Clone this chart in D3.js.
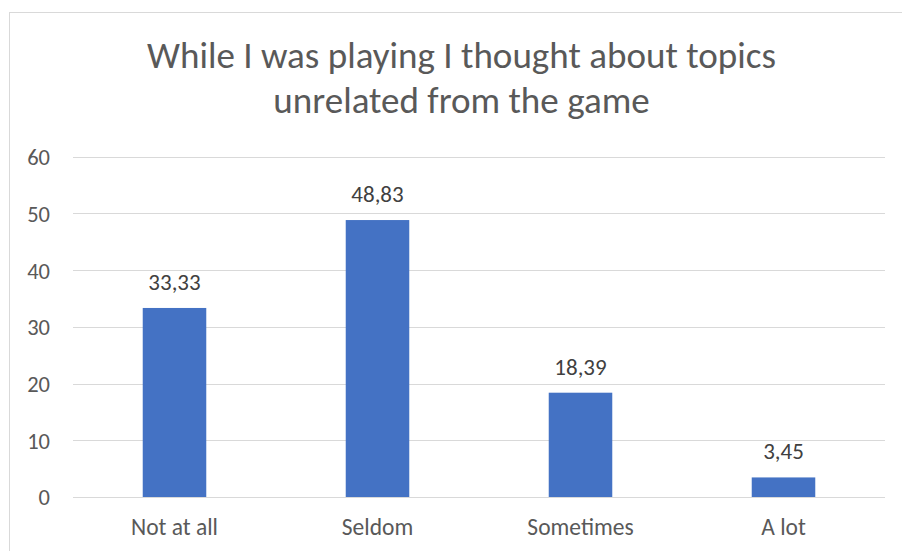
<!DOCTYPE html>
<html>
<head>
<meta charset="utf-8">
<script src="https://cdn.jsdelivr.net/npm/d3@7"></script>
<style>
  html, body { margin: 0; padding: 0; background: #fff; }
  svg { display: block; }
  text { font-family: Carlito, Calibri, Lato, "Open Sans", sans-serif; }
</style>
</head>
<body>
<svg id="chart" width="902" height="551"></svg>
<script>
const titleLines = ["While I was playing I thought about topics", "unrelated from the game"];
const categories = ["Not at all", "Seldom", "Sometimes", "A lot"];
const values = [33.33, 48.83, 18.39, 3.45];
const yTicks = [0, 10, 20, 30, 40, 50, 60];

const svg = d3.select("#chart");
const textColor = "#595959";

// outer chart border
svg.append("rect")
  .attr("x", 9.5).attr("y", 12.5)
  .attr("width", 910).attr("height", 560)
  .attr("fill", "#fff").attr("stroke", "#d9d9d9").attr("stroke-width", 1);

const plot = { left: 73, right: 885, top: 156.7, bottom: 497 };

const x = d3.scaleBand()
  .domain(categories)
  .range([plot.left, plot.right])
  .paddingInner(0.687)
  .paddingOuter(0.687 / 2);

const y = d3.scaleLinear()
  .domain([0, 60])
  .range([plot.bottom, plot.top]);

// gridlines
svg.append("g")
  .selectAll("line")
  .data(yTicks)
  .join("line")
  .attr("x1", plot.left).attr("x2", plot.right)
  .attr("y1", d => Math.round(y(d)) + 0.5).attr("y2", d => Math.round(y(d)) + 0.5)
  .attr("stroke", "#d9d9d9").attr("stroke-width", 1);

// y axis labels
const yAxis = d3.axisLeft(y).tickValues(yTicks).tickSize(0).tickPadding(0);
const gy = svg.append("g").attr("transform", `translate(50,0)`).call(yAxis);
gy.select(".domain").remove();
gy.selectAll("text")
  .attr("fill", textColor)
  .style("font-size", "22.5px")
  .attr("dy", "0.35em");

// bars
svg.append("g")
  .selectAll("rect")
  .data(values)
  .join("rect")
  .attr("x", (d, i) => x(categories[i]))
  .attr("width", x.bandwidth())
  .attr("y", d => y(d))
  .attr("height", d => y(0) - y(d))
  .attr("fill", "#4472c4");

// data labels
const fmt = d => d.toFixed(2).replace(".", ",");
svg.append("g")
  .selectAll("text")
  .data(values)
  .join("text")
  .attr("x", (d, i) => x(categories[i]) + x.bandwidth() / 2)
  .attr("y", d => y(d) - 18)
  .attr("text-anchor", "middle")
  .attr("fill", "#404040")
  .style("font-size", "23px")
  .text(fmt);

// x axis labels
const xAxis = d3.axisBottom(x).tickSize(0).tickPadding(0);
const gx = svg.append("g").attr("transform", `translate(0,${plot.bottom})`).call(xAxis);
gx.select(".domain").remove();
gx.selectAll("text")
  .attr("fill", textColor)
  .attr("dy", null)
  .attr("y", 38)
  .style("font-size", "23.5px");

// title
const title = svg.append("g");
title.selectAll("text")
  .data(titleLines)
  .join("text")
  .attr("x", 461.5)
  .attr("y", (d, i) => 67.5 + i * 45.5)
  .attr("text-anchor", "middle")
  .attr("fill", textColor)
  .style("font-size", "34px")
  .style("font-weight", 300)
  .text(d => d);
// fit title width to reference (first line ~629px)
const t0 = title.select("text").node();
const len = t0.getComputedTextLength();
if (len > 0) {
  const fs = 34 * 629 / len;
  title.selectAll("text").style("font-size", fs.toFixed(2) + "px");
}
</script>
</body>
</html>
